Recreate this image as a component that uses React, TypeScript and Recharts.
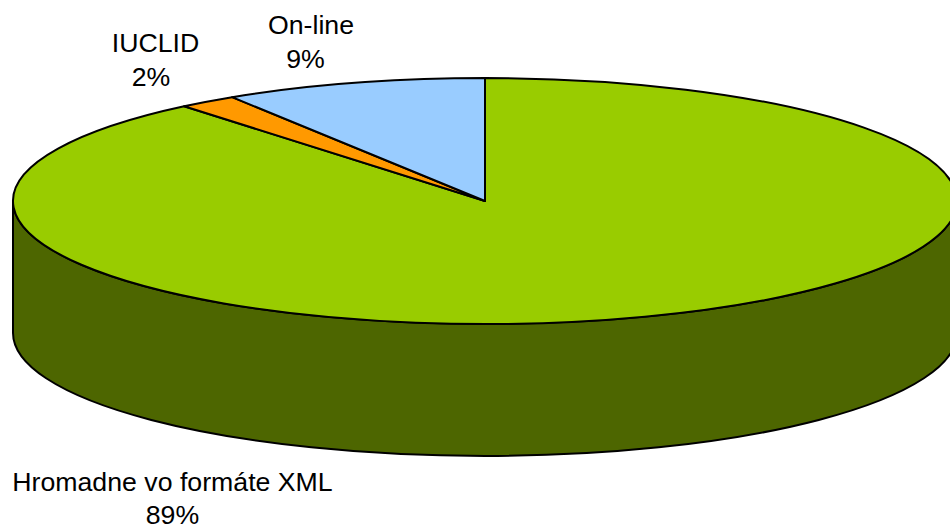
import React from 'react';
import { PieChart, Pie } from 'recharts';

const categories = ['Hromadne vo formáte XML', 'IUCLID', 'On-line'];
const shares = [89, 2, 9];
const topColors = ['#99CC00', '#FF9900', '#99CCFF'];
const wallColors = ['#4D6600', '#804D00', '#4D6680'];

const data = categories.map((name, i) => ({
  name,
  value: shares[i],
  fill: topColors[i],
  wall: wallColors[i],
}));

// pie is squashed to an ellipse, angles stay parametric like the 3D office charts
const RX = 472;
const RY = 123;
const DEPTH = 132;

const labelSpots: Record<string, { x: number; pctX: number; y: number; gap: number }> = {
  'Hromadne vo formáte XML': { x: 172.5, pctX: 172.5, y: 491, gap: 32.5 },
  IUCLID: { x: 155.5, pctX: 151, y: 52, gap: 34 },
  'On-line': { x: 311, pctX: 305.5, y: 34, gap: 34 },
};

const pt = (cx: number, cy: number, deg: number) => {
  const a = (deg * Math.PI) / 180;
  return [cx + RX * Math.cos(a), cy - RY * Math.sin(a)];
};

function TopSlice(props: any) {
  const { cx, cy, startAngle, endAngle, fill } = props;
  const [x1, y1] = pt(cx, cy, startAngle);
  const [x2, y2] = pt(cx, cy, endAngle);
  const large = Math.abs(startAngle - endAngle) > 180 ? 1 : 0;
  return (
    <path
      d={`M${cx},${cy} L${x1},${y1} A${RX},${RY} 0 ${large} 1 ${x2},${y2} Z`}
      fill={fill}
      stroke="#000"
      strokeWidth={2}
      strokeLinejoin="round"
    />
  );
}

function WallSlice(props: any) {
  const { cx, cy, startAngle, endAngle, payload } = props;
  // only the front half of the rim can be seen
  const from = Math.min(startAngle, 0);
  const to = Math.max(endAngle, -180);
  if (from <= to) return null;
  const [x1, y1] = pt(cx, cy, from);
  const [x2, y2] = pt(cx, cy, to);
  return (
    <path
      d={`M${x1},${y1} A${RX},${RY} 0 0 1 ${x2},${y2} L${x2},${y2 + DEPTH} A${RX},${RY} 0 0 0 ${x1},${y1 + DEPTH} Z`}
      fill={payload?.wall ?? props.wall}
      stroke="#000"
      strokeWidth={2}
      strokeLinejoin="round"
    />
  );
}

function SliceLabel(props: any) {
  const { name, value } = props;
  const spot = labelSpots[name];
  return (
    <text x={spot.x} y={spot.y} textAnchor="middle" fill="#000" fontSize={26.7} fontFamily="Liberation Sans, Arial, sans-serif">
      <tspan x={spot.x}>{name}</tspan>
      <tspan x={spot.pctX} dy={spot.gap}>{`${value}%`}</tspan>
    </text>
  );
}

export default function App() {
  return (
    <div style={{ position: 'fixed', left: 0, top: 0, width: 950, height: 527, background: '#fff', overflow: 'hidden' }}>
      <PieChart width={950} height={527} margin={{ top: 0, right: 0, bottom: 0, left: 0 }}>
        <Pie
          data={data}
          dataKey="value"
          nameKey="name"
          cx={485}
          cy={201}
          innerRadius={0}
          outerRadius={RX}
          startAngle={90}
          endAngle={-270}
          isAnimationActive={false}
          shape={WallSlice}
        />
        <Pie
          data={data}
          dataKey="value"
          nameKey="name"
          cx={485}
          cy={201}
          innerRadius={0}
          outerRadius={RX}
          startAngle={90}
          endAngle={-270}
          isAnimationActive={false}
          shape={TopSlice}
          label={SliceLabel}
          labelLine={false}
        />
      </PieChart>
    </div>
  );
}
